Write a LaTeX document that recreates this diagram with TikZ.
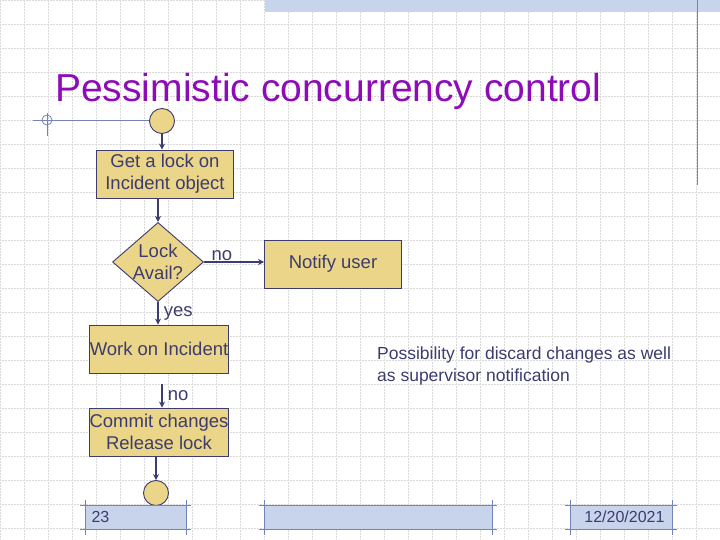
\documentclass[tikz,border=0pt]{standalone}
\usepackage{fontspec}
\setmainfont{Liberation Sans}
\usetikzlibrary{shapes.geometric,arrows.meta,patterns}
\definecolor{fillc}{HTML}{EBD588}
\definecolor{linec}{HTML}{3C3C6E}
\definecolor{titlec}{HTML}{8E0BB8}
\definecolor{bandc}{HTML}{C8D4EC}
\definecolor{framec}{HTML}{7484B8}
\tikzset{
 box/.style={draw=linec,fill=fillc,line width=0.9pt,minimum width=137pt,minimum height=48pt,inner sep=0pt,align=center,font=\fontsize{18.5}{22}\selectfont,text=linec},
 dec/.style={diamond,draw=linec,fill=fillc,line width=0.9pt,minimum width=90pt,minimum height=78pt,inner sep=0pt,align=center,font=\fontsize{18.5}{22}\selectfont,text=linec,aspect=1.15},
 term/.style={circle,draw=linec,fill=fillc,line width=0.9pt,minimum size=25pt,inner sep=0pt},
 conn/.style={draw=linec,line width=1.6pt,-{Stealth[length=6pt,width=6pt]}},
 lab/.style={font=\fontsize{18.5}{20}\selectfont,text=linec,inner sep=1pt},
 band/.style={fill=bandc,draw=none},
 fr/.style={draw=framec,line width=0.8pt}
}
\begin{document}
\begin{tikzpicture}[x=1pt,y=-1pt]
\useasboundingbox (0,0) rectangle (720,540);
\fill[white] (0,0) rectangle (720,540);
\foreach \i in {0,24,...,720} \draw[gray!30,densely dotted,line width=0.5pt] (\i,0) -- (\i,540);
\foreach \j in {0,24,...,540} \draw[gray!30,densely dotted,line width=0.5pt] (0,\j) -- (720,\j);
% top band
\fill[band] (265,0) rectangle (720,12);
\draw[fr] (697,0) -- (697,185);
% title
\node[anchor=base west,font=\fontsize{39}{44}\selectfont,text=titlec,inner sep=0pt] (title) at (55,102) {Pessimistic concurrency control};
\draw[fr] (33,120) -- (150,120);
\draw[fr] (47,113) -- (47,136);
\draw[fr] (47,120) circle (5);
% flowchart
\node[term] (start) at (162,121) {};
\node[box] (get) at (165,174) {Get a lock on\\Incident object};
\node[dec] (avail) at (158,262) {Lock\\Avail?};
\node[box] (notify) at (333,264) {Notify user};
\node[box] (work) at (159,349) {Work on Incident};
\node[box] (commit) at (159,432) {Commit changes\\Release lock};
\node[term] (end) at (156,493) {};
\draw[conn] (start) -- (start|-get.north);
\draw[conn] (get.south-|avail) -- (avail.north);
\draw[conn] (avail.east) -- (avail.east-|notify.west) node[lab,pos=0.3,above] (no1) {no};
\draw[conn] (avail.south) -- (avail.south|-work.north) node[lab,midway,right=4pt] (yes) {yes};
\coordinate (ws) at (162,384);
\draw[conn] (ws) -- (ws|-commit.north) node[lab,midway,right=4pt] (no2) {no};
\draw[conn] (commit.south-|end) -- (end.north);
\node[anchor=north west,align=left,font=\fontsize{17.5}{22}\selectfont,text=linec,inner sep=0pt] (note) at (377,347) {Possibility for discard changes as well\\as supervisor notification};
% footer
\fill[band] (85,505) rectangle (186,529);
\fill[band] (264,505) rectangle (492,529);
\fill[band] (570,505) rectangle (672,529);
\foreach \a/\b in {85/186,264/492,570/672}{
 \draw[fr] (\a-5,505) -- (\b+5,505);
 \draw[fr] (\a-5,529) -- (\b+5,529);
 \draw[fr] (\a,500) -- (\a,535);
 \draw[fr] (\b,500) -- (\b,535);
}
\node[anchor=west,font=\fontsize{16}{18}\selectfont,text=linec] (pg) at (88,517) {23};
\node[anchor=east,font=\fontsize{16}{18}\selectfont,text=linec] (dt) at (668,517) {12/20/2021};
\end{tikzpicture}
\end{document}
